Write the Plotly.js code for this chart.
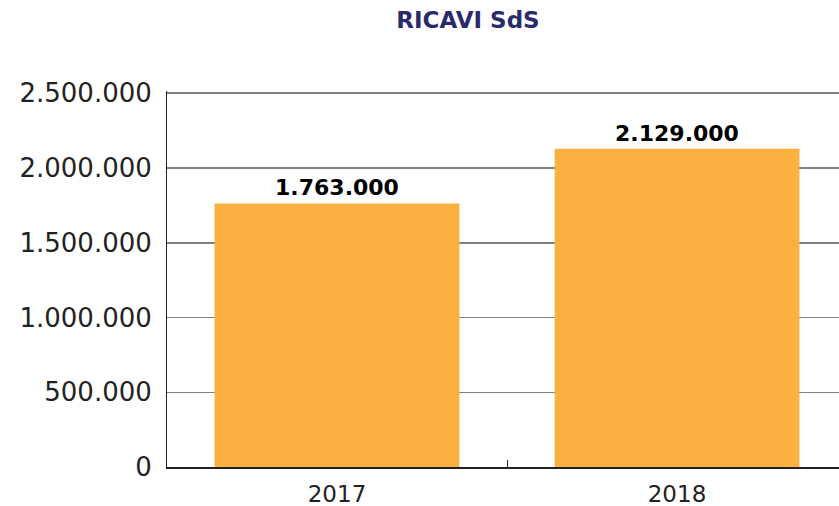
<!DOCTYPE html>
<html>
<head>
<meta charset="utf-8">
<script src="https://cdn.plot.ly/plotly-3.0.1.min.js"></script>
<style>html,body{margin:0;padding:0;background:#fff;}#chart{width:839px;height:506px;}</style>
</head>
<body>
<div id="chart"></div>
<script>
const categories = ["2017", "2018"];
const ricavi = [1763000, 2129000];
const yTicks = [0, 500000, 1000000, 1500000, 2000000, 2500000];

const trace = {
  type: "bar",
  x: categories,
  y: ricavi,
  marker: {color: "#FBB040"},
  texttemplate: "<b>%{y:,d}</b>",
  textposition: "outside",
  textfont: {family: "DejaVu Sans", size: 22, color: "#000"},
  cliponaxis: false,
  hoverinfo: "none"
};

const layout = {
  width: 839, height: 506,
  margin: {l: 167, r: 0, t: 91, b: 39, pad: 0},
  paper_bgcolor: "#fff", plot_bgcolor: "#fff",
  separators: ",.",
  bargap: 0.28,
  showlegend: false,
  title: {
    text: "<b>RICAVI SdS</b>",
    font: {family: "DejaVu Sans", size: 23, color: "#2b2a6b"},
    x: 468 / 839, xref: "container", xanchor: "center",
    y: 1 - 20 / 506, yref: "container", yanchor: "middle"
  },
  xaxis: {
    type: "category",
    range: [-0.5, 1.5 - 8 / 340],
    showline: true, linecolor: "#222", linewidth: 1.5,
    tickson: "boundaries", ticks: "inside", ticklen: 7, tickcolor: "#222", tickwidth: 1,
    showgrid: false,
    tickfont: {family: "DejaVu Sans", size: 23, color: "#222"},
    ticklabelstandoff: 6
  },
  yaxis: {
    range: [0, 2500000 * 1.006],
    tickvals: yTicks,
    tickformat: ",d",
    showline: true, linecolor: "#222", linewidth: 1,
    showgrid: true, gridcolor: "#7f7f7f", gridwidth: 1.5,
    zeroline: false,
    ticks: "",
    tickfont: {family: "DejaVu Sans", size: 26, color: "#222"},
    ticklabelstandoff: 9
  }
};

Plotly.newPlot("chart", [trace], layout, {displayModeBar: false, staticPlot: true});
</script>
</body>
</html>
